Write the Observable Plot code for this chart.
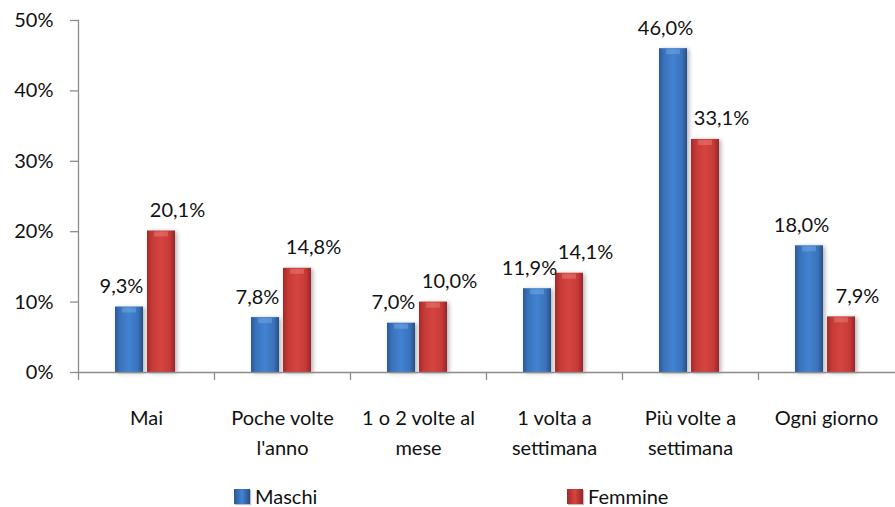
<!DOCTYPE html>
<html>
<head>
<meta charset="utf-8">
<script src="https://cdn.jsdelivr.net/npm/d3@7"></script>
<script src="https://cdn.jsdelivr.net/npm/@observablehq/plot@0.6"></script>
<style>
  html, body { margin: 0; padding: 0; background: #fff; }
  body { font-family: Lato, "Open Sans", sans-serif; color: #111; width: 895px; }
  #legend { position: relative; width: 895px; height: 42px; font-size: 20px; }
  .item { position: absolute; top: 20px; display: flex; align-items: center; height: 22px; }
  .sw { width: 16px; height: 15px; margin-right: 5px; box-shadow: 1px 1px 1px rgba(0,0,0,0.25); }
</style>
</head>
<body>
<div id="chart"></div>
<div id="legend"></div>
<script>
// ---- data ----
const categories = ["Mai", "Poche volte\nl'anno", "1 o 2 volte al\nmese", "1 volta a\nsettimana", "Più volte a\nsettimana", "Ogni giorno"];
const maschi  = [9.3, 7.8, 7.0, 11.9, 46.0, 18.0];
const femmine = [20.1, 14.8, 10.0, 14.1, 33.1, 7.9];
const yTicks = [0, 10, 20, 30, 40, 50];
const seriesNames = ["Maschi", "Femmine"];

const fmt = v => v.toFixed(1).replace(".", ",") + "%";
const mData = categories.map((c, i) => ({cat: c, v: maschi[i]}));
const fData = categories.map((c, i) => ({cat: c, v: femmine[i]}));

const font = "Lato, 'Open Sans', sans-serif";
const axisGray = "#8c8c8c";

const plot = Plot.plot({
  width: 895,
  height: 465,
  marginLeft: 78,
  marginRight: 1,
  marginTop: 20,
  marginBottom: 93,
  style: {fontFamily: font, fontSize: "20px", color: "#111", background: "white", overflow: "visible"},
  x: {domain: categories, padding: 0, label: null},
  y: {domain: [0, 50], label: null},
  marks: [
    Plot.barY(mData, {x: "cat", y: "v", insetLeft: 37, insetRight: 71, fill: "url(#gBlue)"}),
    Plot.barY(fData, {x: "cat", y: "v", insetLeft: 69, insetRight: 39, fill: "url(#gRed)"}),
    Plot.tickY(mData, {x: "cat", y: "v", insetLeft: 44, insetRight: 78, dy: 3, stroke: "#8dbcf2", strokeWidth: 5, strokeOpacity: 0.35}),
    Plot.tickY(fData, {x: "cat", y: "v", insetLeft: 76, insetRight: 46, dy: 3, stroke: "#f09a96", strokeWidth: 5, strokeOpacity: 0.35}),
    Plot.text(mData, {x: "cat", y: "v", text: d => fmt(d.v), dx: -25, dy: -14, lineAnchor: "bottom", fontSize: 20, fill: "#111"}),
    Plot.text(fData, {x: "cat", y: "v", text: d => fmt(d.v), dx: 31, dy: -14, lineAnchor: "bottom", fontSize: 20, fill: "#111"}),
    Plot.frame({anchor: "left", stroke: axisGray, strokeWidth: 1.3}),
    Plot.frame({anchor: "bottom", stroke: axisGray, strokeWidth: 1.3}),
    Plot.ruleX(categories, {x: d => d, dx: -68, y1: 0, y2: -1.15, stroke: axisGray, strokeWidth: 1.3}),
    Plot.axisY({ticks: yTicks, tickFormat: d => d + "%", tickSize: 8, tickPadding: 17, stroke: axisGray, strokeWidth: 1.3, fill: "#111", fontSize: 20}),
    Plot.axisX({tickSize: 0, tickPadding: 31, lineHeight: 1.5, fontSize: 20, fill: "#111"})
  ]
});

// gradients and shadow
const svg = d3.select(plot);
const defs = svg.insert("defs", ":first-child");
function grad(id, stops) {
  const g = defs.append("linearGradient").attr("id", id).attr("x1", "0").attr("x2", "1").attr("y1", "0").attr("y2", "0");
  stops.forEach(([o, c]) => g.append("stop").attr("offset", o).attr("stop-color", c));
}
grad("gBlue", [["0", "#2b5998"], ["0.18", "#3a72bb"], ["0.5", "#4283d2"], ["0.82", "#3a72bb"], ["1", "#274f88"]]);
grad("gRed", [["0", "#a12a28"], ["0.18", "#c53a37"], ["0.5", "#d6443f"], ["0.82", "#c53a37"], ["1", "#95252a"]]);
svg.selectAll("g[aria-label='bar']").style("filter", "drop-shadow(2px 1px 2px rgba(0,0,0,0.3))");

document.getElementById("chart").appendChild(plot);

// legend
const legend = d3.select("#legend");
const colors = {Maschi: "linear-gradient(to right,#2b5998,#4283d2 50%,#274f88)", Femmine: "linear-gradient(to right,#a12a28,#d6443f 50%,#95252a)"};
const lefts = {Maschi: 234, Femmine: 567};
seriesNames.forEach(name => {
  const it = legend.append("div").attr("class", "item").style("left", lefts[name] + "px");
  it.append("div").attr("class", "sw").style("background", colors[name]);
  it.append("span").text(name);
});
</script>
</body>
</html>
